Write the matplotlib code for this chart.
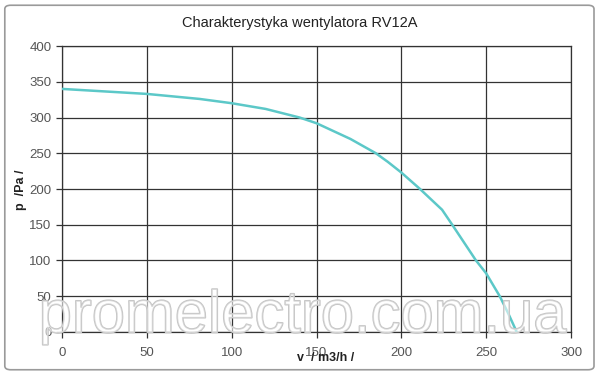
import matplotlib
matplotlib.use("Agg")
from matplotlib import pyplot as plt
from matplotlib import patheffects as pe
from matplotlib.patches import FancyBboxPatch

# fan curve
flow = [0, 50, 81, 100, 120, 140, 150, 170, 185, 192, 200, 211, 224, 230,
        237, 244, 250, 258, 263, 268]
pressure = [340, 333, 326, 320, 312, 300, 292, 270, 250, 238, 223, 200, 171,
            150, 125, 100, 82, 50, 26, 0]

x_ticks = [0, 50, 100, 150, 200, 250, 300]
y_ticks = [0, 50, 100, 150, 200, 250, 300, 350, 400]

title = "Charakterystyka wentylatora RV12A"
x_label = "v  / m3/h /"
y_label = "p  /Pa /"
watermark = "promelectro.com.ua"

plt.rcParams['font.family'] = ['Liberation Sans', 'DejaVu Sans']

fig = plt.figure(figsize=(6, 3.75), dpi=100)
fig.patch.set_facecolor('white')
ax = fig.add_axes([0.1033, 0.1147, 0.8484, 0.7626])

ax.plot(flow, pressure, color='#5cc8c8', lw=1.8, zorder=3)

ax.set_xlim(0, 300)
ax.set_ylim(0, 400)
ax.set_xticks(x_ticks)
ax.set_yticks(y_ticks)
ax.grid(True, color='#333333', lw=0.9)
ax.set_axisbelow(True)
for s in ax.spines.values():
    s.set_color('#333333')
    s.set_linewidth(0.9)
ax.tick_params(axis='both', colors='#333333', labelcolor='#555555',
               labelsize=9.5, length=4, width=0.9)
ax.tick_params(axis='x', pad=7)

fig.text(0.5, 0.94, title, ha='center', va='center', fontsize=10.5, color='#222222')
fig.text(0.542, 0.045, x_label, ha='center', va='center', fontsize=9,
         fontweight='bold', color='#222222')
fig.text(0.035, 0.495, y_label, ha='center', va='center', fontsize=9,
         fontweight='bold', color='#222222', rotation=90)

# outlined watermark
fig.text(0.505, 0.155, watermark, ha='center', va='center', fontsize=43,
         color=(1, 1, 1, 0.35), zorder=5,
         path_effects=[pe.withStroke(linewidth=1.2, foreground='#c4c4c4')])

border = FancyBboxPatch((0.008, 0.014), 0.982, 0.972, transform=fig.transFigure,
                        boxstyle='round,pad=0,rounding_size=0.01',
                        fill=False, edgecolor='#9a9a9a', lw=1.2)
fig.patches.append(border)

fig.savefig('out.png', dpi=100)
